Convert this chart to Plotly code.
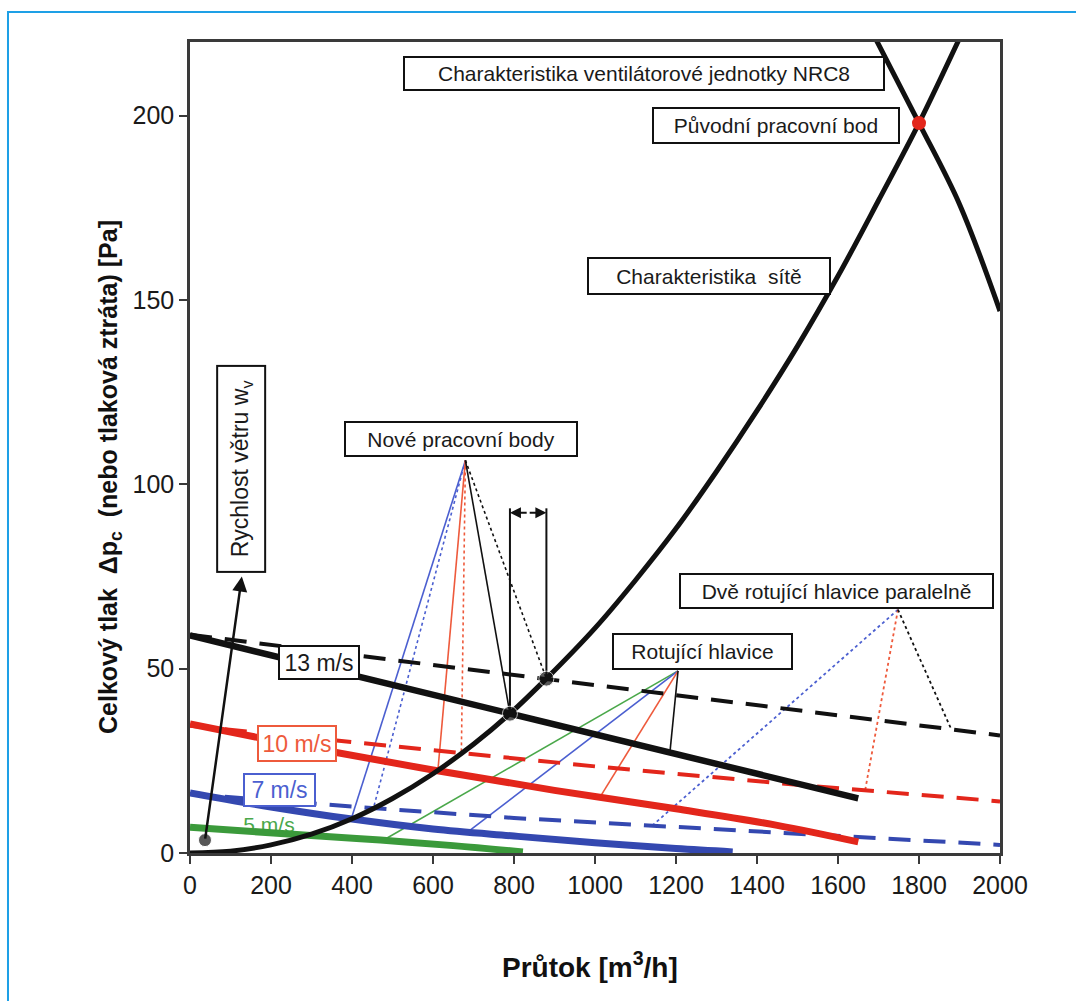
import plotly.graph_objects as go

# ---- data: flow rate Q [m3/h] and total pressure dp [Pa] ----
# network (duct system) characteristic
net_q = [0, 100, 200, 300, 400, 500, 600, 700, 790, 880, 1000, 1100, 1200, 1300, 1400, 1500, 1600, 1700, 1800, 1900]
net_p = [0, 0.5, 2.2, 5.1, 9.3, 14.8, 21.5, 29.5, 37.8, 47.3, 61, 74, 88, 103.5, 120, 137.5, 156.5, 177, 198, 221]

# fan unit NRC8 characteristic
fan_q = [1690, 1800, 1900, 2000]
fan_p = [221.5, 198, 176, 147]

# one rotating head (solid) for wind speeds 13, 10, 7, 5 m/s
w13_q = [0, 790, 1650]
w13_p = [59, 37.8, 14.8]
w10_q = [0, 300, 600, 900, 1200, 1450, 1650]
w10_p = [35, 28.5, 22.5, 17, 12, 7.5, 3]
w7_q = [0, 200, 400, 600, 800, 1000, 1200, 1340]
w7_p = [16.3, 12.5, 9.2, 6.5, 4.6, 2.8, 1.2, 0.3]
w5_q = [0, 290, 470, 650, 822]
w5_p = [7, 4.8, 3.5, 2, 0.3]

# two rotating heads in parallel (dashed)
w13d_q = [0, 880, 2000]
w13d_p = [59.2, 47.3, 31.9]
w10d_q = [0, 500, 1000, 1500, 2000]
w10d_p = [34.5, 29, 23.5, 18.5, 14]
w7d_q = [0, 400, 800, 1200, 1600, 2000]
w7d_p = [16, 12.6, 9.5, 7, 4.5, 2.2]

# original operating point
orig_q, orig_p = 1800, 198

# new operating points (network x wind curves): 7, 7d, 10, 10d, 13, 13d
new_q = [398, 453, 612, 670, 790, 880]
new_p = [9.25, 12.2, 22.3, 27.1, 37.8, 47.3]
new_apex = (680, 106.5)

# points referenced by "Rotující hlavice": 5, 7, 10, 13 m/s
rot_q = [477, 686, 1012, 1185]
rot_p = [3.45, 5.7, 15.1, 27.3]
rot_apex = (1205, 49.4)

# points referenced by "Dvě rotující hlavice paralelně": 7, 10, 13 m/s
par_q = [1141, 1667, 1880]
par_p = [7.4, 17.0, 33.5]
par_apex = (1748, 66)

# wind speed arrow start point
wind_q, wind_p = 37, 3.5

BLACK = "#111111"
RED = "#e3261b"
RED_T = "#ee5a3c"
BLUE = "#3448b0"
BLUE_T = "#4b5fd0"
GREEN = "#3b9a3b"
GREEN_T = "#4aa84a"
FONT = "Liberation Sans Narrow, Arial Narrow, Liberation Sans, Arial, sans-serif"

fig = go.Figure()


def line(q, p, color, width, dash="solid", shape="linear"):
    fig.add_trace(go.Scatter(x=q, y=p, mode="lines", hoverinfo="skip", showlegend=False,
                             line=dict(color=color, width=width, dash=dash, shape=shape)))


DOT = "3px,3px"

# leader lines to the new operating points
new_styles = [(BLUE_T, "solid"), (BLUE_T, DOT), (RED_T, "solid"), (RED_T, DOT), (BLACK, "solid"), (BLACK, DOT)]
for (c, d), q, p in zip(new_styles, new_q, new_p):
    line([new_apex[0], q], [new_apex[1], p], c, 1.6, d)

# leader lines for one rotating head
for c, q, p in zip([GREEN_T, BLUE_T, RED_T, BLACK], rot_q, rot_p):
    line([rot_apex[0], q], [rot_apex[1], p], c, 1.6)

# leader lines for two heads in parallel
for c, q, p in zip([BLUE_T, RED_T, BLACK], par_q, par_p):
    line([par_apex[0], q], [par_apex[1], p], c, 1.8, DOT)

# flow difference bracket
bracket_top = 93.5
line([new_q[4], new_q[4]], [new_p[4], bracket_top], BLACK, 2)
line([new_q[5], new_q[5]], [new_p[5], bracket_top], BLACK, 2)

# 5 m/s label sits underneath the curves
fig.add_shape(type="rect", layer="below", x0=104, x1=286, y0=3.5, y1=10.0,
              line=dict(color=GREEN, width=2), fillcolor="white")
fig.add_trace(go.Scatter(x=[195], y=[7.2], mode="text", text=["5 m/s"], hoverinfo="skip",
                         showlegend=False, textfont=dict(family=FONT, size=21, color=GREEN_T)))

DASH = "22px,13px"
# two heads in parallel
line(w7d_q, w7d_p, BLUE, 4, DASH)
line(w10d_q, w10d_p, RED, 4, DASH)
line(w13d_q, w13d_p, BLACK, 4, DASH)

# one rotating head
line(w5_q, w5_p, GREEN, 7, shape="spline")
line(w7_q, w7_p, BLUE, 7, shape="spline")
line(w10_q, w10_p, RED, 7, shape="spline")
line(w13_q, w13_p, BLACK, 6.5)

# network and fan characteristics
line(net_q, net_p, BLACK, 5, shape="spline")
line(fan_q, fan_p, BLACK, 5, shape="spline")

# markers
fig.add_trace(go.Scatter(x=[orig_q], y=[orig_p], mode="markers", hoverinfo="skip", showlegend=False,
                         marker=dict(color=RED, size=14)))
fig.add_trace(go.Scatter(x=[new_q[4], new_q[5], wind_q], y=[new_p[4], new_p[5], wind_p], mode="markers",
                         hoverinfo="skip", showlegend=False,
                         marker=dict(color=BLACK, size=[15, 15, 13])))

annotations = []


def box(text, x, y, w, h, color=BLACK, tcolor="#1a1a1a", size=21, angle=0):
    annotations.append(dict(
        text=text, x=x, y=y, xref="x", yref="y", showarrow=False, textangle=angle,
        xanchor="center", yanchor="middle",
        width=w - 4, height=h - 4, align="center", valign="middle",
        bgcolor="white", bordercolor=color, borderwidth=2, borderpad=0,
        font=dict(family=FONT, size=size, color=tcolor)))


box("Charakteristika ventilátorové jednotky NRC8", 1121, 211.5, 482, 35)
box("Původní pracovní bod", 1447, 197.4, 248, 37)
box("Charakteristika  sítě", 1281.5, 156.6, 244, 38)
box("Rychlost větru w<sub>v</sub>", 126, 104.2, 208, 50, size=23, angle=-90)
box("Nové pracovní body", 669, 112.3, 234, 36)
box("13 m/s", 318.5, 51.7, 82, 35, size=23)
box("10 m/s", 264, 29.7, 80, 37, color=RED_T, tcolor=RED_T, size=23)
box("7 m/s", 221, 17.1, 73, 34, color=BLUE_T, tcolor=BLUE_T, size=23)
box("Rotující hlavice", 1265, 54.7, 181, 37)
box("Dvě rotující hlavice paralelně", 1596, 71.1, 315, 36)

# double arrow between the two working points
mid = (new_q[4] + new_q[5]) / 2
for tip in (new_q[4], new_q[5]):
    annotations.append(dict(x=tip, y=92.3, ax=mid, ay=92.3, xref="x", yref="y", axref="x", ayref="y",
                            text="", showarrow=True, arrowhead=2, arrowsize=1.1, arrowwidth=2,
                            arrowcolor=BLACK))

# wind speed arrow
annotations.append(dict(x=128, y=75, ax=wind_q, ay=wind_p, xref="x", yref="y", axref="x", ayref="y",
                        text="", showarrow=True, arrowhead=2, arrowsize=1.2, arrowwidth=2.5,
                        arrowcolor=BLACK))

# axis titles
annotations.append(dict(text="<b>Celkový tlak  Δp<sub>c</sub>  (nebo tlaková ztráta) [Pa]</b>",
                        xref="paper", yref="paper", x=-0.0988, y=0.4636, textangle=-90,
                        xanchor="center", yanchor="middle",
                        showarrow=False, font=dict(family=FONT, size=25, color="#111")))
annotations.append(dict(text="<b>Průtok [m<sup>3</sup>/h]</b>", xref="paper", yref="paper",
                        x=0.4938, y=-0.138, xanchor="center", yanchor="middle", showarrow=False,
                        font=dict(family=FONT, size=28, color="#111")))

axis_common = dict(showline=True, mirror=True, linecolor="#3a3a3a", linewidth=2.5,
                   ticks="outside", ticklen=8, tickwidth=2, tickcolor="#3a3a3a",
                   showgrid=False, zeroline=False,
                   tickfont=dict(family=FONT, size=25, color="#1a1a1a"))

fig.update_layout(
    width=1076, height=1001,
    margin=dict(l=190, r=76, t=42, b=148),
    paper_bgcolor="white", plot_bgcolor="white",
    xaxis=dict(range=[0, 2000], tickvals=list(range(0, 2001, 200)), **axis_common),
    yaxis=dict(range=[0, 220], tickvals=[0, 50, 100, 150, 200], **axis_common),
    annotations=annotations,
    shapes=[
        dict(type="path", xref="paper", yref="paper",
             path="M -0.2247,-0.2 L -0.2247,1.037 L 1.1,1.037",
             line=dict(color="#1ea0e6", width=2)),
    ],
)

fig.write_html("out.html")
